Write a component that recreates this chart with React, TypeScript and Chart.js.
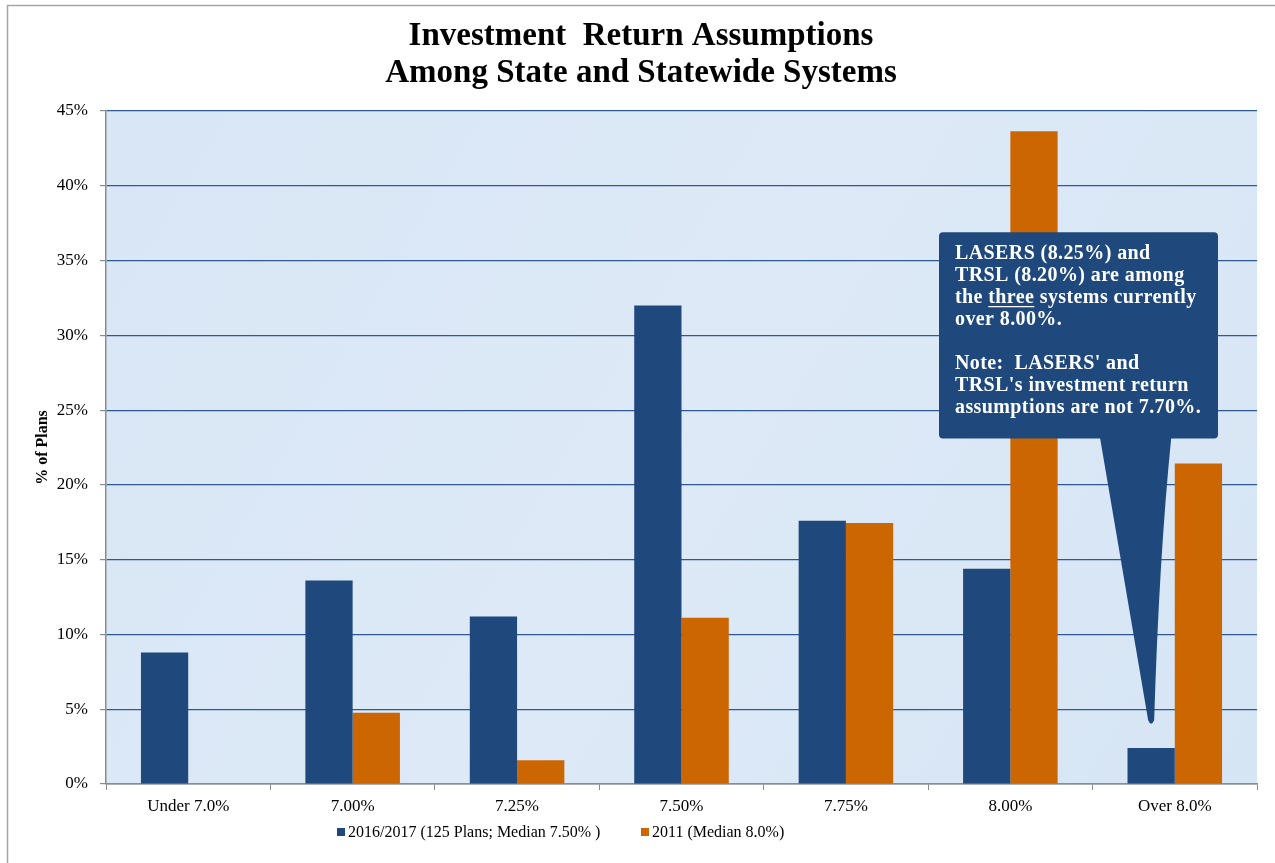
import React, { useEffect, useRef } from "react";
import { Chart, registerables } from "chart.js";

Chart.register(...registerables);

const categories = ["Under 7.0%", "7.00%", "7.25%", "7.50%", "7.75%", "8.00%", "Over 8.0%"];
const series2016 = [8.8, 13.6, 11.2, 32.0, 17.6, 14.4, 2.4];
const series2011 = [0, 4.76, 1.59, 11.11, 17.46, 43.65, 21.43];
const seriesLabels = ["2016/2017 (125 Plans; Median 7.50% )", "2011 (Median 8.0%)"];
const seriesColors = ["#1f497d", "#cc6600"];
const yTickValues = [0, 5, 10, 15, 20, 25, 30, 35, 40, 45];
const titleLines = ["Investment  Return Assumptions", "Among State and Statewide Systems"];
const yAxisTitle = "% of Plans";
const calloutLines: string[][] = [
  ["LASERS (8.25%) and"],
  ["TRSL (8.20%) are among"],
  ["the ", "three", " systems currently"],
  ["over 8.00%."],
  [""],
  ["Note:  LASERS' and"],
  ["TRSL's investment return"],
  ["assumptions are not 7.70%."],
];
const calloutTipValue = 4; // % level the callout pointer reaches

const SERIF = "'Liberation Serif', 'DejaVu Serif', serif";

const decorPlugin = {
  id: "decor",
  beforeDraw(chart: any) {
    const { ctx, chartArea } = chart;
    ctx.save();
    ctx.fillStyle = "#ffffff";
    ctx.fillRect(0, 0, chart.width, chart.height);
    ctx.strokeStyle = "#a6a6a6";
    ctx.lineWidth = 1.5;
    ctx.strokeRect(7.5, 5.5, chart.width + 50, chart.height + 50);
    const g = ctx.createLinearGradient(chartArea.left, chartArea.top, chartArea.right, chartArea.bottom);
    g.addColorStop(0, "#d8e6f5");
    g.addColorStop(0.5, "#dde9f7");
    g.addColorStop(1, "#d6e5f4");
    ctx.fillStyle = g;
    ctx.fillRect(chartArea.left, chartArea.top, chartArea.right - chartArea.left, chartArea.bottom - chartArea.top);
    ctx.restore();
  },
  afterDraw(chart: any) {
    const { ctx, chartArea, scales } = chart;
    ctx.save();
    // Title
    ctx.fillStyle = "#000";
    ctx.font = `bold 33px ${SERIF}`;
    ctx.textAlign = "center";
    ctx.textBaseline = "alphabetic";
    const cx = 641;
    ctx.fillText(titleLines[0], cx, 45);
    ctx.fillText(titleLines[1], cx, 82);

    // Legend
    ctx.font = `16px ${SERIF}`;
    ctx.textAlign = "left";
    ctx.textBaseline = "middle";
    const ly = 833;
    const starts = [337, 641];
    seriesLabels.forEach((lab, i) => {
      const x0 = starts[i];
      ctx.fillStyle = seriesColors[i];
      ctx.fillRect(x0, ly - 5, 8, 8);
      ctx.fillStyle = "#000";
      ctx.fillText(lab, x0 + 11, ly);
    });

    // Callout
    const meta = chart.getDatasetMeta(0);
    const tipX = meta.data[6].x;
    const tipY = scales.y.getPixelForValue(calloutTipValue);
    const bl = chartArea.right - 318;
    const br = chartArea.right - 39;
    const bt = scales.y.getPixelForValue(36.9);
    const bb = scales.y.getPixelForValue(23.1);
    ctx.fillStyle = "#1f497d";
    ctx.beginPath();
    const r = 4;
    ctx.moveTo(bl + r, bt);
    ctx.lineTo(br - r, bt);
    ctx.quadraticCurveTo(br, bt, br, bt + r);
    ctx.lineTo(br, bb - r);
    ctx.quadraticCurveTo(br, bb, br - r, bb);
    ctx.lineTo(tipX + 20, bb);
    ctx.quadraticCurveTo(tipX + 8, bb + 120, tipX + 3, tipY - 4);
    ctx.quadraticCurveTo(tipX, tipY + 3, tipX - 3, tipY - 4);
    ctx.lineTo(tipX - 51, bb);
    ctx.lineTo(bl + r, bb);
    ctx.quadraticCurveTo(bl, bb, bl, bb - r);
    ctx.lineTo(bl, bt + r);
    ctx.quadraticCurveTo(bl, bt, bl + r, bt);
    ctx.closePath();
    ctx.fill();

    ctx.fillStyle = "#ffffff";
    ctx.strokeStyle = "#ffffff";
    ctx.lineWidth = 1.2;
    ctx.font = `bold 20px ${SERIF}`;
    (ctx as any).letterSpacing = "0.4px";
    ctx.textAlign = "left";
    ctx.textBaseline = "alphabetic";
    let by = bt + 27;
    calloutLines.forEach((parts) => {
      let x = bl + 16;
      parts.forEach((p, j) => {
        ctx.fillText(p, x, by);
        const w = ctx.measureText(p).width;
        if (parts.length === 3 && j === 1) {
          ctx.beginPath();
          ctx.moveTo(x, by + 3.5);
          ctx.lineTo(x + w, by + 3.5);
          ctx.stroke();
        }
        x += w;
      });
      by += 22;
    });
    (ctx as any).letterSpacing = "0px";
    ctx.restore();
  },
};

export default function App() {
  const ref = useRef<HTMLCanvasElement>(null);
  useEffect(() => {
    if (!ref.current) return;
    const chart = new Chart(ref.current, {
      type: "bar",
      data: {
        labels: categories,
        datasets: [
          { label: seriesLabels[0], data: series2016, backgroundColor: seriesColors[0] },
          { label: seriesLabels[1], data: series2011, backgroundColor: seriesColors[1] },
        ],
      },
      options: {
        responsive: false,
        animation: false,
        devicePixelRatio: 1,
        layout: { padding: { top: 111, left: 0, right: 18, bottom: 0 } },
        datasets: { bar: { categoryPercentage: 0.575, barPercentage: 1 } },
        plugins: {
          legend: { display: false },
          title: { display: false },
          tooltip: { enabled: false },
        },
        scales: {
          x: {
            afterFit: (s: any) => { s.height = 79; },
            grid: { display: true, drawOnChartArea: false, drawTicks: true, tickLength: 6, color: "#8c8c8c", offset: true },
            border: { color: "#8c8c8c", width: 1.5 },
            ticks: { color: "#000", font: { family: SERIF, size: 17 }, padding: 6 },
          },
          y: {
            min: 0,
            max: 45,
            afterFit: (s: any) => { s.width = 106; },
            afterBuildTicks: (s: any) => { s.ticks = yTickValues.map((v) => ({ value: v })); },
            grid: { color: "#2d5a96", lineWidth: 1.2, tickColor: "#8c8c8c", tickLength: 6, drawTicks: true },
            border: { color: "#8c8c8c", width: 1.5 },
            ticks: {
              color: "#000",
              font: { family: SERIF, size: 17 },
              padding: 12,
              callback: (v: any) => `${v}%`,
            },
            title: {
              display: true,
              text: yAxisTitle,
              color: "#000",
              font: { family: SERIF, size: 16, weight: "bold" },
              padding: { top: 33, bottom: 0 },
            },
          },
        },
      },
      plugins: [decorPlugin],
    });
    return () => chart.destroy();
  }, []);
  return (
    <div style={{ position: "absolute", left: 0, top: 0, width: 1275, height: 863 }}>
      <canvas ref={ref} width={1275} height={863} style={{ width: 1275, height: 863, display: "block" }} />
    </div>
  );
}
